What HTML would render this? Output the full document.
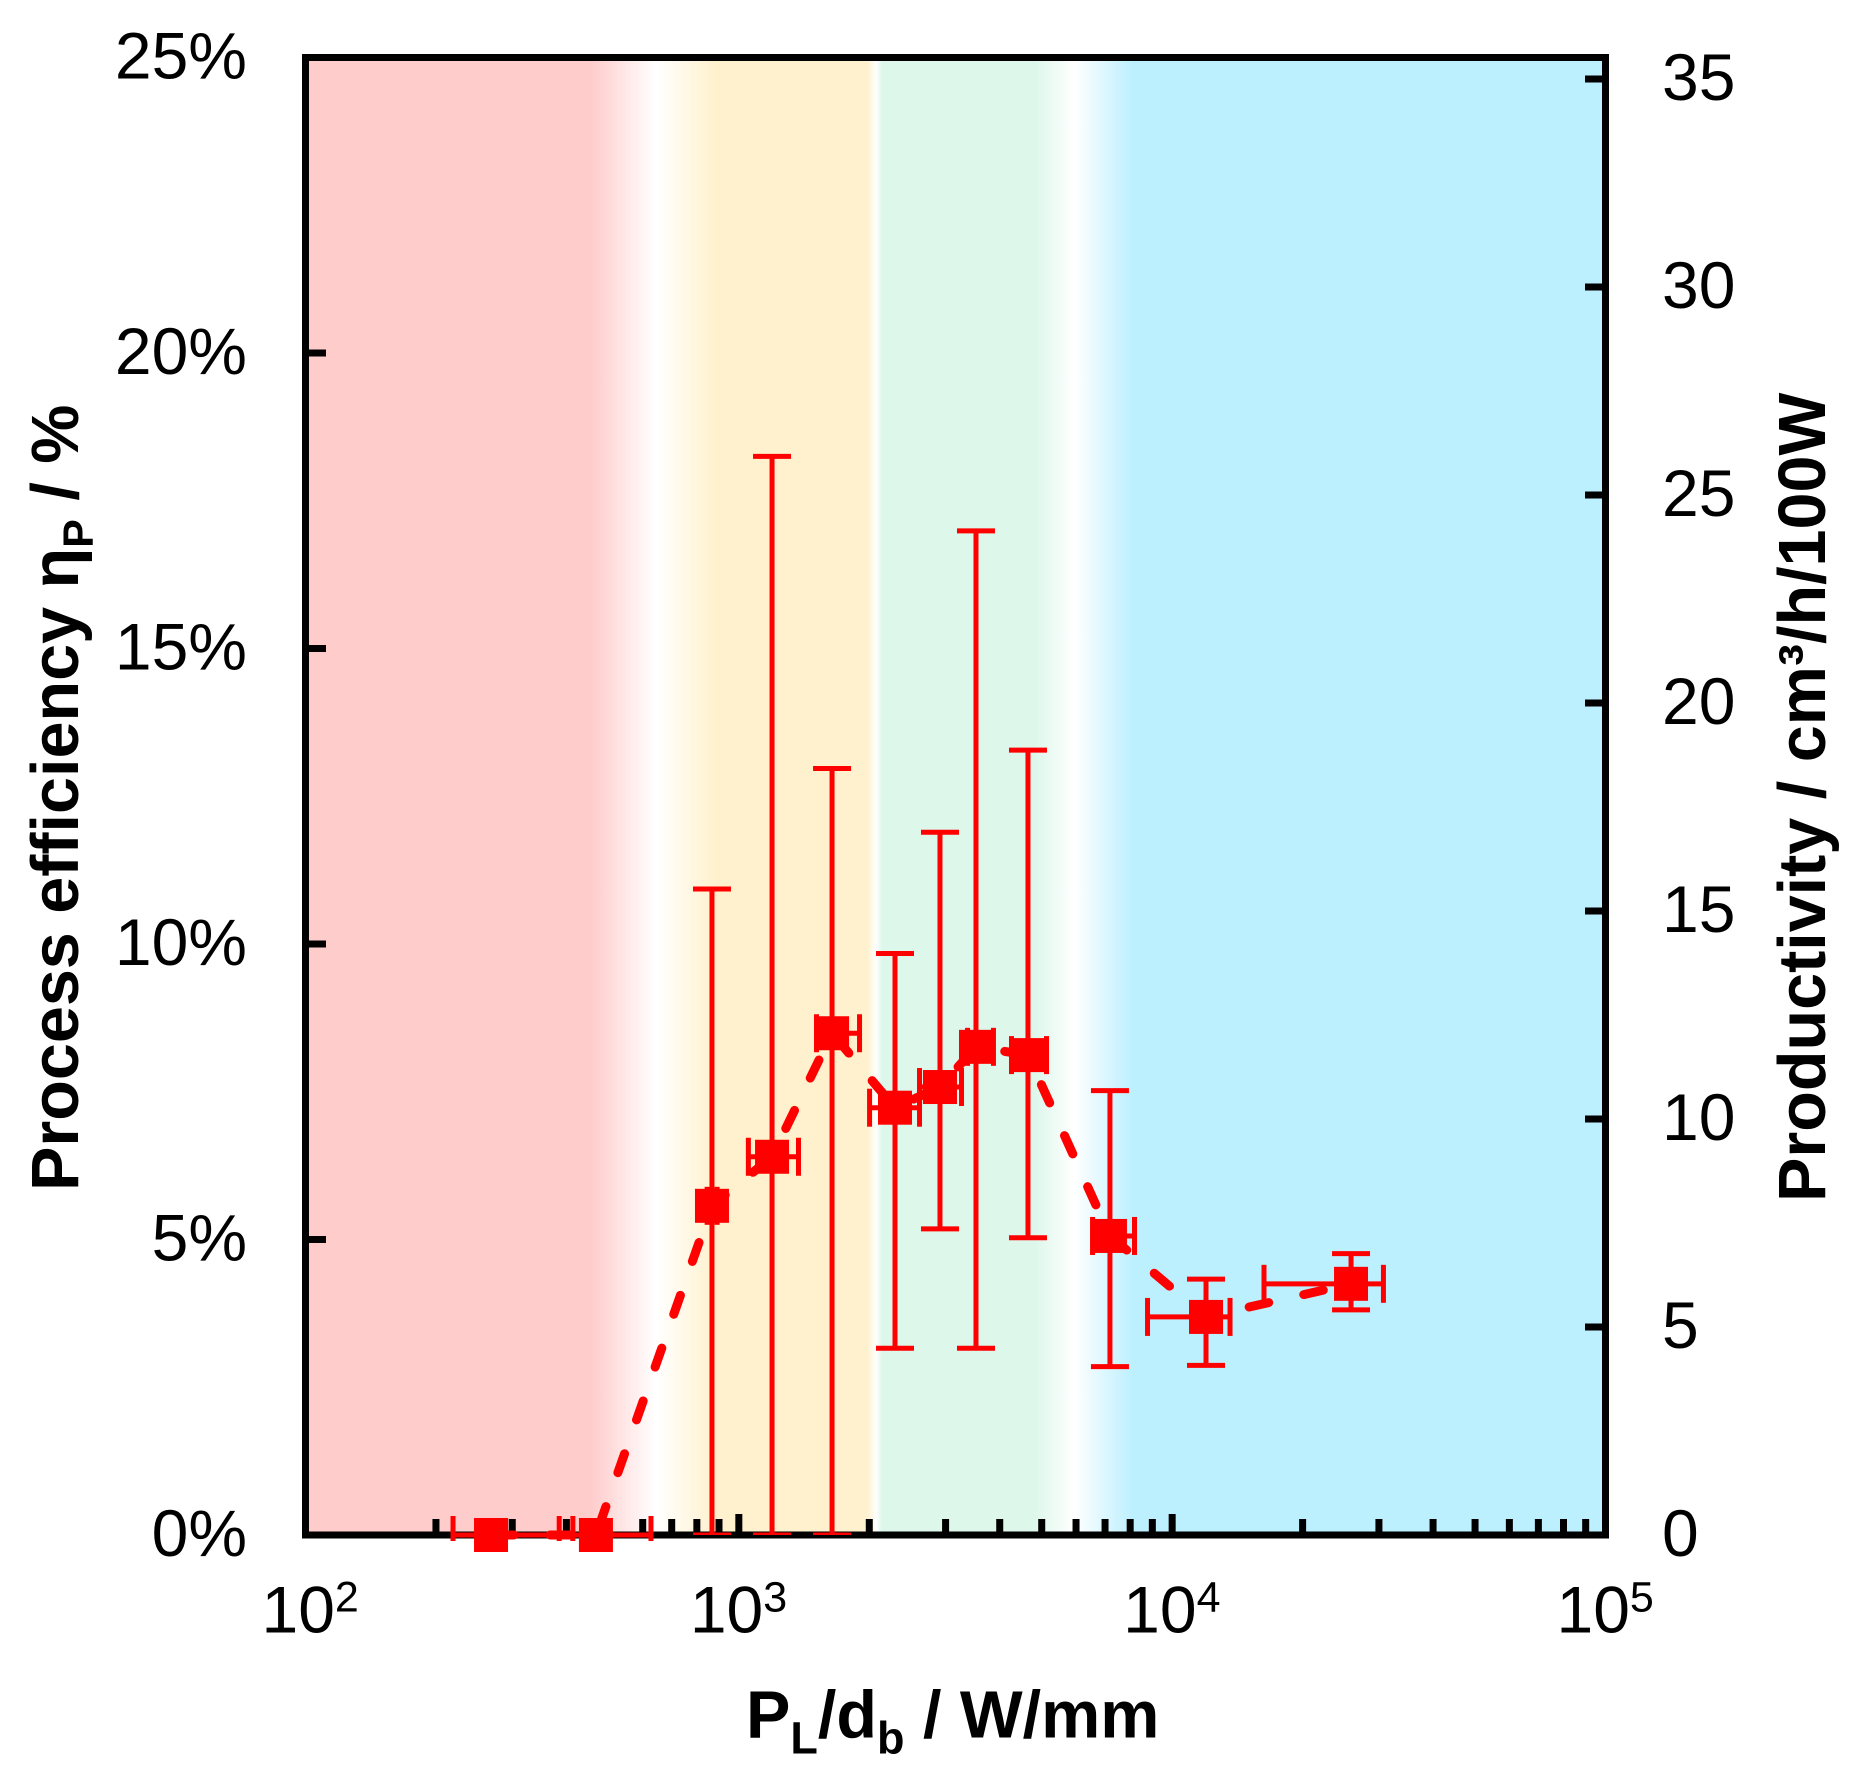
<!DOCTYPE html>
<html lang="en">
<head>
<meta charset="utf-8">
<title>Process efficiency and productivity versus line energy</title>
<style>
html,body{margin:0;padding:0;background:#fff;}
svg{display:block;}
text{font-family:"Liberation Sans",Arial,sans-serif;fill:#000;font-kerning:none;}
</style>
</head>
<body>
<svg id="chart" xmlns="http://www.w3.org/2000/svg" width="1867" height="1780" viewBox="0 0 1867 1780">
  <defs>
    <linearGradient id="bandGradient" gradientUnits="userSpaceOnUse" x1="305.5" y1="0" x2="1605.5" y2="0"></linearGradient>
    <clipPath id="clipVertical"><rect x="300" y="50" width="1310" height="1485"></rect></clipPath>
    <clipPath id="clipHorizontal"><rect x="300" y="50" width="1310" height="1491"></rect></clipPath>
  </defs>
  <rect x="305.5" y="57.5" width="1300" height="1477.5" fill="url(#bandGradient)"></rect>
  <g id="ticks" fill="#000"></g>
  <rect x="305.5" y="57.5" width="1300" height="1477.5" fill="none" stroke="#000" stroke-width="7"></rect>
  <g id="labels" font-size="66"></g>
  <path id="series-line" fill="none" stroke="#ff0000" stroke-width="9" stroke-linecap="round" stroke-linejoin="round" stroke-dasharray="20 36" stroke-dashoffset="-3"></path>
  <g id="errors" stroke="#ff0000" stroke-width="5" fill="none"></g>
  <g id="markers" fill="#ff0000"></g>
  <text x="746" y="1737.5" font-size="66.5" font-weight="700">P<tspan font-size="45" dy="16">L</tspan><tspan dy="-16">/d</tspan><tspan font-size="45" dy="16">b</tspan><tspan dy="-16"> / W/mm</tspan></text>
  <text transform="translate(78 1191) rotate(-90)" font-size="66.5" font-weight="700">Process efficiency η<tspan font-size="43" dy="15">P</tspan><tspan dy="-15"> / %</tspan></text>
  <text transform="translate(1825 1202) rotate(-90)" font-size="66.5" font-weight="700">Productivity / cm³/h/100W</text>
</svg>
<script>
// Chart data
const xValues  = [268, 468, 867, 1193, 1641, 2293, 2912, 3526, 4648, 7185, 11970, 25870]; // P_L/d_b, W/mm
const xLower   = [219, 414, 845, 1052, 1511, 2003, 2612, 3371, 4258, 6550, 8773, 16290];
const xUpper   = [385, 627, 891, 1373, 1899, 2612, 3265, 3869, 5129, 8186, 13600, 30730];
const etaValues = [0, 0, 5.57, 6.40, 8.49, 7.23, 7.58, 8.26, 8.12, 5.06, 3.69, 4.25]; // process efficiency, %
const etaLower  = [0, 0, 0, 0, 0, 3.16, 5.18, 3.16, 5.03, 2.85, 2.87, 3.81];
const etaUpper  = [0, 0, 10.93, 18.25, 12.97, 9.84, 11.89, 16.99, 13.28, 7.52, 4.33, 4.76];
const leftTicks  = [0, 5, 10, 15, 20, 25];
const rightTicks = [0, 5, 10, 15, 20, 25, 30, 35];
const xExponents = [2, 3, 4, 5];
const minorMultipliers = [2, 3, 4, 5, 6, 7, 8, 9];
const bandValues = [100, 456, 644, 886, 1976, 2073, 2140, 4826, 5950, 8100, 100000];
const bandColors = ['#ffcccc', '#ffcccc', '#ffffff', '#fff1cd', '#fff1cd', '#ffffff', '#def7eb', '#def7eb', '#ffffff', '#bdf0ff', '#bdf0ff'];

const NS = 'http://www.w3.org/2000/svg';
const plotLeft = 305.5, plotRight = 1605.5, plotTop = 57.5, plotBottom = 1535;
const xScale = v => plotLeft + (Math.log10(v) - 2) * (plotRight - plotLeft) / 3;
const yLeft = v => plotBottom - v * (plotBottom - plotTop) / 25;
const yRight = v => plotBottom - v * 41.6;

function make(tag, parent, attrs) {
  const el = document.createElementNS(NS, tag);
  for (const k in attrs) el.setAttribute(k, attrs[k]);
  parent.appendChild(el);
  return el;
}

// Background bands
const gradient = document.getElementById('bandGradient');
bandValues.forEach((v, i) => {
  make('stop', gradient, { offset: (xScale(v) - plotLeft) / (plotRight - plotLeft), 'stop-color': bandColors[i] });
});

const ticks = document.getElementById('ticks');
const labels = document.getElementById('labels');

// Left axis
leftTicks.forEach(v => {
  if (v > 0 && v < 25) {
    const t = make('rect', ticks, { x: 305, y: yLeft(v) - 3.5, width: 21, height: 7 });
    
    
  }
  const l = make('text', labels, { x: 247, y: yLeft(v) + 21, 'text-anchor': 'end' });
  l.textContent = v + '%';
  
  
});

// Right axis
rightTicks.forEach(v => {
  if (v > 0) {
    const t = make('rect', ticks, { x: 1585, y: yRight(v) - 3.5, width: 21, height: 7 });
    
    
  }
  const l = make('text', labels, { x: 1662, y: yRight(v) + 21 });
  l.textContent = String(v);
  
  
});

// X axis
xExponents.forEach((e, i) => {
  const base = Math.pow(10, e);
  const px = xScale(base);
  if (i > 0 && i < xExponents.length - 1) {
    const t = make('rect', ticks, { x: px - 3.5, y: 1514, width: 7, height: 21 });
    
    
  }
  if (i < xExponents.length - 1) {
    minorMultipliers.forEach(m => {
      const t = make('rect', ticks, { x: xScale(base * m) - 3.5, y: 1519, width: 7, height: 16 });
      
      
    });
  }
  const l = make('text', labels, { x: px - (i === 0 ? 44 : 49), y: 1632.5 });
  
  
  l.appendChild(document.createTextNode('10'));
  const sup = make('tspan', l, { 'font-size': 43, dy: -21 });
  sup.textContent = String(e);
});

// Dashed series line
document.getElementById('series-line').setAttribute('d',
  xValues.map((x, i) => (i ? 'L' : 'M') + xScale(x).toFixed(1) + ' ' + yLeft(etaValues[i]).toFixed(1)).join(' '));

// Error bars and markers
const errors = document.getElementById('errors');
const markers = document.getElementById('markers');
const capHalf = 19, markerSize = 34;
xValues.forEach((x, i) => {
  const cx = xScale(x), cy = yLeft(etaValues[i]);
  const g = make('g', errors, {});
  
  
  const v = make('g', g, { 'clip-path': 'url(#clipVertical)' });
  const h = make('g', g, { 'clip-path': 'url(#clipHorizontal)' });
  const x0 = xScale(xLower[i]), x1 = xScale(xUpper[i]);
  make('line', h, { x1: x0, x2: x1, y1: cy, y2: cy });
  make('line', h, { x1: x0, x2: x0, y1: cy - capHalf, y2: cy + capHalf });
  make('line', h, { x1: x1, x2: x1, y1: cy - capHalf, y2: cy + capHalf });
  const yTop = yLeft(etaUpper[i]), yBot = yLeft(etaLower[i]);
  if (etaUpper[i] !== etaLower[i]) {
    make('line', v, { x1: cx, x2: cx, y1: yTop, y2: yBot });
    make('line', v, { x1: cx - capHalf, x2: cx + capHalf, y1: yTop, y2: yTop });
    make('line', v, { x1: cx - capHalf, x2: cx + capHalf, y1: yBot, y2: yBot });
  }
  const m = make('rect', markers, { x: cx - markerSize / 2, y: cy - markerSize / 2, width: markerSize, height: markerSize });
  
  
});
</script>
</body>
</html>
